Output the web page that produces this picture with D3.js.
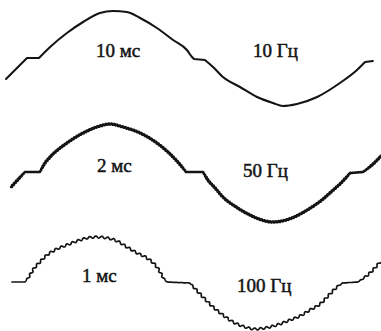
<!DOCTYPE html>
<html><head><meta charset="utf-8">
<script src="https://cdn.jsdelivr.net/npm/d3@7"></script>
<style>html,body{margin:0;padding:0;background:#fff;} svg{display:block}</style>
</head><body><svg id="c" width="381" height="331"></svg>
<script>
// ---- data (time units, signal units) ----
const durations = ["10 мс", "2 мс", "1 мс"];
const frequencies = ["10 Гц", "50 Гц", "100 Гц"];

const wave10 = [[2,-21],[9,0],[13,0],[16.7,11],[22.3,25],[27.7,36],[33.3,45],[37.7,47],[42.3,46],[46.7,40],[52.3,30],[57.7,18],[62.3,8],[64,1],[64.7,-1],[68.3,-2],[71,-9],[74.3,-19],[80,-29],[85.7,-39],[91,-45],[94.3,-48],[99,-46],[105.7,-39],[113.3,-25],[119,-12],[121.7,-4],[124.3,-3]];

const wave50 = [[3.7,-15],[8.3,0],[13.3,0],[15,9],[16.7,15],[22.3,29],[27.7,39],[33.3,46],[36.7,48],[41,45],[46.7,39],[52.3,29],[57.7,15],[60.7,5],[62,0],[67.7,0],[69.3,-8],[71.7,-16],[74.3,-25],[78.7,-35],[83.3,-43],[87.3,-48],[90.7,-50],[94,-49],[97.3,-46],[100.7,-41],[104,-35],[107.3,-28],[110.7,-19],[114,-10],[116.7,-1],[121,0],[124,7],[127,16]];

const wave100 = [[4,0],[8.3,0],[10,7],[11,12],[13.3,20],[15.7,27],[18.3,32],[22.3,37],[25.7,41],[29,44],[32.3,45],[35.7,44],[39,41],[42.3,35],[45.7,29],[49,24],[52.3,15],[55,2],[55.7,0],[63.3,-1],[66.7,-12],[71,-25],[74.3,-33],[77.7,-40],[81.7,-45],[85,-47],[88.3,-46],[92.3,-43],[96.7,-38],[100,-34],[103.3,-28],[106.7,-22],[110,-12],[112.7,-4],[114.3,-1],[119.3,0],[123.3,9],[126.7,20]];

const rippleAmp = [0, 0.55, 1.0];       // signal units
const ripplePeriod = [0, 0.95, 2.0];    // time units

// ---- layout ----
const W = 381, H = 331;
const waves = [wave10, wave50, wave100];
const baselines = [58, 172, 282];
const strokeW = [2.1, 2.6, 1.7];
const labelLeft = [[32, 1], [32.3, 0], [27.3, 0]];
const labelRight = [[84.3, 1], [81, -5], [79, -10]];

const svg = d3.select("#c");
svg.append("rect").attr("width", W).attr("height", H).attr("fill", "#fff");

const x = d3.scaleLinear().domain([0, 127]).range([0, 381]);
const ys = baselines.map(b => d3.scaleLinear().domain([-50, 50]).range([b + 50, b - 50]));

const ink = "#141414";

// split a wave into flat (straight) runs and curved runs
function buildPath(w, y) {
  const isFlat = (a, b) => {
    const dx = x(b[0]) - x(a[0]);
    const dy = Math.abs(y(b[1]) - y(a[1]));
    return Math.abs(a[1]) < 5 && Math.abs(b[1]) < 5 && dy / dx < 0.35;
  };
  const runs = [];
  let cur = [w[0]], curFlat = null;
  for (let k = 1; k < w.length; k++) {
    const f = isFlat(w[k - 1], w[k]);
    if (curFlat === null || f === curFlat) { cur.push(w[k]); curFlat = f; }
    else { runs.push({ flat: curFlat, pts: cur }); cur = [w[k - 1], w[k]]; curFlat = f; }
  }
  runs.push({ flat: curFlat, pts: cur });
  const curved = d3.line().x(d => x(d[0])).y(d => y(d[1])).curve(d3.curveMonotoneX);
  const straight = d3.line().x(d => x(d[0])).y(d => y(d[1]));
  let d = "";
  runs.forEach((r, j) => {
    let s = (r.flat ? straight : curved)(r.pts);
    if (j > 0) s = "L" + s.slice(1);
    d += s;
  });
  return d;
}

waves.forEach((w, i) => {
  const y = ys[i];
  const d = buildPath(w, y);
  if (!rippleAmp[i]) {
    svg.append("path").attr("d", d).attr("fill", "none").attr("stroke", ink)
      .attr("stroke-width", strokeW[i]).attr("stroke-linejoin", "round").attr("stroke-linecap", "round");
    return;
  }
  const tmp = svg.append("path").attr("d", d).attr("fill", "none").attr("stroke", "none");
  const node = tmp.node();
  const total = node.getTotalLength();
  const perPx = x(ripplePeriod[i]) - x(0);
  const ampPx = Math.abs(y(rippleAmp[i]) - y(0));
  const base = y(0);
  const pts = [];
  const step = 0.3;
  for (let s = 0; s <= total; s += step) {
    const p = node.getPointAtLength(s);
    const p0 = node.getPointAtLength(Math.max(0, s - 0.6));
    const p1 = node.getPointAtLength(Math.min(total, s + 0.6));
    let tx = p1.x - p0.x, ty = p1.y - p0.y;
    const len = Math.hypot(tx, ty) || 1;
    tx /= len; ty /= len;
    const nx = -ty, ny = tx;
    const env = Math.min(1, Math.abs(p.y - base) / 6);
    const off = ampPx * env * Math.sin(2 * Math.PI * s / perPx);
    pts.push([p.x + nx * off, p.y + ny * off]);
  }
  tmp.remove();
  svg.append("path").attr("d", d3.line()(pts)).attr("fill", "none").attr("stroke", ink)
    .attr("stroke-width", strokeW[i]).attr("stroke-linejoin", "round").attr("stroke-linecap", "round");
});

// labels
const font = "'Liberation Serif', 'DejaVu Serif', serif";
waves.forEach((w, i) => {
  const y = ys[i];
  svg.append("text").attr("x", x(labelLeft[i][0])).attr("y", y(labelLeft[i][1]))
    .attr("font-family", font).attr("font-size", 19).attr("fill", ink)
    .attr("stroke", ink).attr("stroke-width", 0.5).text(durations[i]);
  svg.append("text").attr("x", x(labelRight[i][0])).attr("y", y(labelRight[i][1]))
    .attr("font-family", font).attr("font-size", 19).attr("fill", ink)
    .attr("stroke", ink).attr("stroke-width", 0.5).text(frequencies[i]);
});
</script>
</body></html>
